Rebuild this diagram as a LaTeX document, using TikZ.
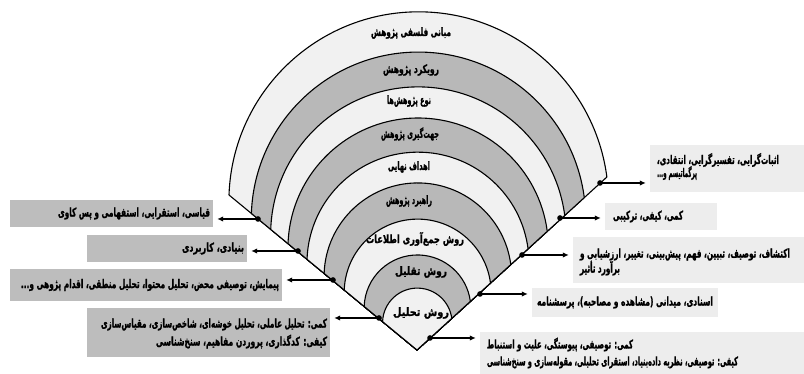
\documentclass[tikz,border=0pt]{standalone}
\usepackage{fontspec}
\usepackage{graphicx}
\usetikzlibrary{arrows.meta,calc}
\TeXXeTstate=1
\newfontfamily\fa[Script=Arabic, BoldFeatures={FakeBold=1.5}]{DejaVu Sans}
\newcommand{\fw}[2]{\resizebox{#1}{\height}{#2}}
\definecolor{bandlight}{gray}{0.945}
\definecolor{banddark}{gray}{0.72}
\definecolor{boxdark}{gray}{0.74}
\definecolor{boxlight}{gray}{0.93}
\begin{document}
\begin{tikzpicture}[x=1pt,y=1pt,
  layertext/.style={font=\fa\bfseries\fontsize{11.5}{13}\selectfont, inner sep=0pt},
  boxtext/.style={font=\fa\bfseries\fontsize{12}{15}\selectfont, inner sep=0pt},
  darkbox/.style={fill=boxdark, inner sep=0pt},
  lightbox/.style={fill=boxlight, inner sep=0pt},
  ltext/.style={boxtext, align=right, anchor=east, xshift=-3pt},
  rtext/.style={boxtext, align=left, anchor=west, xshift=7pt},
  conn/.style={line width=1.5pt, {Circle[length=5.5pt]}-{Latex[length=6pt,width=5.5pt]}, shorten <=-2.75pt, shorten >=4pt},
  band/.style={draw=black, line width=1.1pt, line join=round}
]
\useasboundingbox (0,0) rectangle (804,374);
\coordinate (A) at (417,24);
\coordinate (L0) at (229,179);
\foreach \k/\c in {1/bandlight,0.881/banddark,0.778/bandlight,0.686/banddark,0.585/bandlight,0.494/banddark,0.387/bandlight,0.281/banddark,0.183/bandlight}{
  \filldraw[band, fill=\c] (A) -- ($(A)!\k!(L0)$) arc[start angle=178.0, end angle=7.44, radius=189.8*\k] -- cycle;
}
% layer labels
\node[layertext] (l1) at (411,341) {\fw{80pt}{\beginR مبانی فلسفی پژوهش\endR}};
\node[layertext] (l2) at (411,304) {\fw{56pt}{\beginR رویکرد پژوهش\endR}};
\node[layertext] (l3) at (409,273) {\fw{44pt}{\beginR نوع پژوهش‌ها\endR}};
\node[layertext] (l4) at (410,240) {\fw{58pt}{\beginR جهت‌گیری پژوهش\endR}};
\node[layertext] (l5) at (409,207) {\fw{42pt}{\beginR اهداف نهایی\endR}};
\node[layertext] (l6) at (409,173) {\fw{46pt}{\beginR راهبرد پژوهش\endR}};
\node[layertext] (l7) at (415,135) {\fw{98pt}{\beginR روش جمع‌آوری اطلاعات\endR}};
\node[layertext] (l8) at (421,102) {\fw{52pt}{\beginR روش تقلیل\endR}};
\node[layertext] (l9) at (421,61) {\fw{56pt}{\beginR روش تحلیل\endR}};
% left boxes
\node[darkbox, minimum width=203pt, minimum height=27pt] (lb1) at (111.5,160.5) {};
\node[darkbox, minimum width=160pt, minimum height=27pt] (lb2) at (167,125.5) {};
\node[darkbox, minimum width=272pt, minimum height=32pt] (lb3) at (146,89) {};
\node[darkbox, minimum width=243pt, minimum height=49pt] (lb4) at (208.5,41.5) {};
\node[ltext] (tl1) at (lb1.east) {\fw{152pt}{\beginR قیاسی، استقرایی، استفهامی و پس کاوی\endR}};
\node[ltext] (tl2) at (lb2.east) {\fw{62pt}{\beginR بنیادی، کاربردی\endR}};
\node[ltext] (tl3) at (lb3.east) {\fw{258pt}{\beginR پیمایش، توصیفی محض، تحلیل محتوا، تحلیل منطقی، اقدام پژوهی و...\endR}};
\node[ltext, yshift=-1pt] (tl4) at (lb4.east) {\fw{226pt}{\beginR کمی: تحلیل عاملی، تحلیل خوشه‌ای، شاخص‌سازی، مقیاس‌سازی\endR}\\[3pt]\fw{171pt}{\beginR کیفی: کدگذاری، پروردن مفاهیم، سنخ‌شناسی\endR}};
% right boxes
\node[lightbox, minimum width=154pt, minimum height=47pt] (rb1) at (727,205.5) {};
\node[lightbox, minimum width=112pt, minimum height=27pt] (rb2) at (661,157.5) {};
\node[lightbox, minimum width=231pt, minimum height=46pt] (rb3) at (688.5,114) {};
\node[lightbox, minimum width=186pt, minimum height=29pt] (rb4) at (625,71.5) {};
\node[lightbox, minimum width=324pt, minimum height=42pt] (rb5) at (642,21) {};
\node[rtext, yshift=2pt] (tr1) at (rb1.west) {\fw{122pt}{\beginR اثبات‌گرایی، تفسیرگرایی، انتقادی،\endR}\\[-2pt]\fw{40pt}{\beginR پرگماتیسم و...\endR}};
\node[rtext, xshift=1pt] (tr2) at (rb2.west) {\fw{70pt}{\beginR کمی، کیفی، ترکیبی\endR}};
\node[rtext, yshift=-2pt] (tr3) at (rb3.west) {\fw{210pt}{\beginR اکتشاف، توصیف، تبیین، فهم، پیش‌بینی، تغییر، ارزشیابی و\endR}\\\fw{40pt}{\beginR برآورد تأثیر\endR}};
\node[rtext, xshift=-2pt] (tr4) at (rb4.west) {\fw{176pt}{\beginR اسنادی، میدانی (مشاهده و مصاحبه)، پرسشنامه\endR}};
\node[rtext] (tr5) at (rb5.west) {\fw{146pt}{\beginR کمی: توصیفی، پیوستگی، علیت و استنباط\endR}\\[2pt]\fw{251pt}{\beginR کیفی: توصیفی، نظریه داده‌بنیاد، استقرای تحلیلی، مقوله‌سازی و سنخ‌شناسی\endR}};
% connector start points on the onion edges
\coordinate (d1) at (258,155);
\coordinate (d2) at (298,123);
\coordinate (d3) at (333,94);
\coordinate (d4) at (379,56);
\coordinate (e1) at (600,191);
\coordinate (e2) at (560,156);
\coordinate (e3) at (522,119);
\coordinate (e4) at (480,80);
\coordinate (e5) at (430,36);
\draw[conn] (d1) -- (d1 -| lb1.east);
\draw[conn] (d2) -- (d2 -| lb2.east);
\draw[conn] (d3) -- (d3 -| lb3.east);
\draw[conn] (d4) -- (d4 -| lb4.east);
\draw[conn] (e1) -- (e1 -| rb1.west);
\draw[conn] (e2) -- (e2 -| rb2.west);
\draw[conn] (e3) -- (e3 -| rb3.west);
\draw[conn] (e4) -- (e4 -| rb4.west);
\draw[conn] (e5) -- (e5 -| rb5.west);
\end{tikzpicture}
\end{document}
